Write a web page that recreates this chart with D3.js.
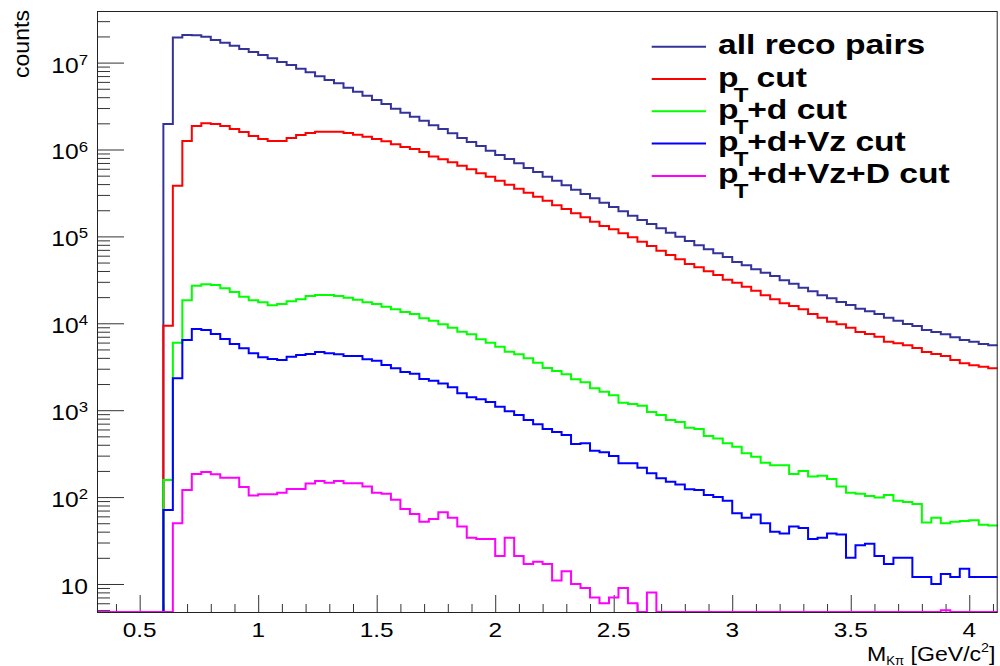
<!DOCTYPE html>
<html>
<head>
<meta charset="utf-8">
<script src="https://cdn.jsdelivr.net/npm/d3@7"></script>
<style>
  html, body { margin: 0; padding: 0; background: #fff; }
  svg { display: block; }
</style>
</head>
<body>
<svg id="chart" width="1000" height="666"></svg>
<script>
// Histogram binning: K-pi invariant mass, 95 bins of 0.04 GeV/c^2
const massRange = [0.32, 4.12];
const nBins = 95;
const countRange = [4.76, 3.925e7];

// Bin contents, one entry per bin (bin 0 starts at 0.32)
const allRecoPairs = [
  0, 0, 0, 0, 0, 0, 0, 1.97e6, 1.95e7, 2.08e7,
  2.06e7, 1.99e7, 1.82e7, 1.69e7, 1.565e7, 1.434e7, 1.324e7, 1.223e7, 1.121e7, 1.016e7,
  9.38e6, 8.51e6, 7.73e6, 6.96e6, 6.31e6, 5.78e6, 5.14e6, 4.62e6, 4.16e6, 3.71e6,
  3.34e6, 2.95e6, 2.65e6, 2.385e6, 2.145e6, 1.90e6, 1.72e6, 1.536e6, 1.357e6, 1.22e6,
  1.097e6, 9.69e5, 8.64e5, 7.78e5, 6.94e5, 6.13e5, 5.51e5, 4.86e5, 4.375e5, 3.87e5,
  3.45e5, 3.075e5, 2.745e5, 2.44e5, 2.18e5, 1.945e5, 1.731e5, 1.544e5, 1.389e5, 1.239e5,
  1.103e5, 9.92e4, 8.85e4, 7.9e4, 7.1e4, 6.39e4, 5.79e4, 5.08e4, 4.65e4, 4.18e4,
  3.82e4, 3.50e4, 3.125e4, 2.856e4, 2.57e4, 2.335e4, 2.10e4, 1.94e4, 1.759e4, 1.624e4,
  1.472e4, 1.375e4, 1.279e4, 1.16e4, 1.071e4, 9.81e3, 9.31e3, 8.37e3, 7.94e3, 7.47e3,
  6.90e3, 6.42e3, 6.14e3, 5.78e3, 5.58e3
];

const ptCut = [
  0, 0, 0, 0, 0, 0, 0, 9.39e3, 3.83e5, 1.253e6,
  1.864e6, 2.00e6, 1.965e6, 1.864e6, 1.72e6, 1.59e6, 1.43e6, 1.321e6, 1.253e6, 1.253e6,
  1.357e6, 1.469e6, 1.549e6, 1.602e6, 1.602e6, 1.602e6, 1.549e6, 1.481e6, 1.404e6, 1.321e6,
  1.243e6, 1.148e6, 1.069e6, 1.013e6, 9.36e5, 8.31e5, 7.72e5, 7.12e5, 6.51e5, 5.92e5,
  5.32e5, 4.86e5, 4.375e5, 3.935e5, 3.54e5, 3.185e5, 2.863e5, 2.575e5, 2.28e5, 2.067e5,
  1.844e5, 1.659e5, 1.476e5, 1.317e5, 1.207e5, 1.086e5, 9.76e4, 8.69e4, 7.75e4, 6.85e4,
  6.11e4, 5.45e4, 4.81e4, 4.41e4, 3.97e4, 3.60e4, 3.175e4, 2.933e4, 2.638e4, 2.372e4,
  2.10e4, 1.889e4, 1.699e4, 1.582e4, 1.449e4, 1.279e4, 1.16e4, 1.043e4, 9.74e3, 8.90e3,
  7.94e3, 7.53e3, 7.01e3, 6.14e3, 5.89e3, 5.58e3, 5.20e3, 4.67e3, 4.43e3, 4.21e3,
  3.78e3, 3.465e3, 3.285e3, 3.167e3, 3.035e3
];

const ptDCut = [
  0, 0, 0, 0, 0, 0, 0, 157, 5.98e3, 1.84e4,
  2.708e4, 2.81e4, 2.76e4, 2.53e4, 2.292e4, 2.024e4, 1.84e4, 1.745e4, 1.611e4, 1.668e4,
  1.792e4, 1.889e4, 2.062e4, 2.117e4, 2.117e4, 2.062e4, 1.97e4, 1.869e4, 1.745e4, 1.668e4,
  1.552e4, 1.449e4, 1.349e4, 1.279e4, 1.141e4, 1.069e4, 9.74e3, 8.90e3, 8.01e3, 7.47e3,
  6.54e3, 5.98e3, 5.38e3, 4.71e3, 4.40e3, 3.955e3, 3.52e3, 3.06e3, 2.826e3, 2.589e3,
  2.268e3, 2.095e3, 1.786e3, 1.633e3, 1.484e3, 1.22e3, 1.178e3, 1.127e3, 953, 881,
  771, 731, 629, 608, 505, 472, 416, 380, 319, 292,
  249, 232, 232, 184, 200, 172, 176, 162, 132, 112,
  109, 103, 99, 106, 91, 88, 83, 51, 58, 50,
  52, 53, 54, 48, 47
];

const ptDVzCut = [
  0, 0, 0, 0, 0, 0, 0, 71, 2.33e3, 6.42e3,
  8.60e3, 8.37e3, 7.53e3, 6.60e3, 5.78e3, 5.16e3, 4.52e3, 4.06e3, 3.88e3, 3.78e3,
  4.13e3, 4.32e3, 4.43e3, 4.67e3, 4.52e3, 4.40e3, 4.21e3, 4.21e3, 3.85e3, 3.71e3,
  3.31e3, 3.035e3, 2.75e3, 2.63e3, 2.286e3, 2.18e3, 2.024e3, 1.834e3, 1.565e3, 1.408e3,
  1.335e3, 1.243e3, 1.097e3, 971, 881, 771, 688, 608, 561, 518,
  408, 416, 342, 328, 297, 245, 245, 218, 188, 165,
  150, 140, 123, 121, 106, 100, 91, 65, 58, 63,
  50, 40, 38, 46, 44, 33, 34, 38, 37, 20,
  28, 29, 21, 17, 20, 20, 12, 12, 10, 13,
  12, 15, 12, 12, 12
];

const ptDVzDCut = [
  0, 0, 0, 0, 0, 0, 0, 0, 50, 121,
  184, 194, 183, 167, 167, 131, 104, 108, 108, 112,
  124, 124, 143, 153, 146, 153, 144, 144, 132, 112,
  109, 93, 73, 64, 52, 56, 67, 58, 46, 34,
  33, 33, 21, 34, 21, 17, 18, 17, 11, 14,
  10, 9, 7, 6, 7, 9, 6, 0, 8, 0,
  0, 0, 0, 0, 0, 0, 0, 0, 0, 0,
  0, 0, 0, 0, 0, 0, 0, 0, 0, 0,
  0, 0, 0, 0, 0, 0, 0, 0, 0, 5,
  0, 0, 0, 0, 0
];

const seriesValues = [allRecoPairs, ptCut, ptDCut, ptDVzCut, ptDVzDCut];
// Legend labels: [main text, subscript, trailing text]
const seriesLabels = [
  ["all reco pairs", "", ""],
  ["p", "T", " cut"],
  ["p", "T", "+d cut"],
  ["p", "T", "+d+Vz cut"],
  ["p", "T", "+d+Vz+D cut"]
];
const seriesColors = ["#33339a", "#ff0000", "#00ff00", "#0000ff", "#ff00ff"];

const xMajorTicks = [0.5, 1, 1.5, 2, 2.5, 3, 3.5, 4];
const xTickLabels = ["0.5", "1", "1.5", "2", "2.5", "3", "3.5", "4"];
const yMajorTicks = [10, 1e2, 1e3, 1e4, 1e5, 1e6, 1e7];
const yTickExponents = ["", "2", "3", "4", "5", "6", "7"];

// ---- layout ----
const frame = { left: 97, top: 11, right: 997.7, bottom: 612 };
const fontFamily = "'Liberation Sans', Arial, Helvetica, sans-serif";

const svg = d3.select("#chart");

const x = d3.scaleLinear().domain(massRange).range([frame.left, frame.right]);
const y = d3.scaleLog().domain(countRange).range([frame.bottom, frame.top]);

const binWidth = (massRange[1] - massRange[0]) / nBins;
const binEdges = d3.range(nBins + 1).map(i => massRange[0] + i * binWidth);

svg.append("defs").append("clipPath").attr("id", "frameClip")
  .append("rect")
  .attr("x", frame.left).attr("y", frame.top - 1)
  .attr("width", frame.right - frame.left)
  .attr("height", frame.bottom - frame.top + 2);

// ---- axes ticks (drawn inward like the ROOT frame) ----
const xMinorTicks = d3.range(4, 42).map(k => k / 10)
  .filter(v => v >= massRange[0] && v <= massRange[1] && !xMajorTicks.some(m => Math.abs(m - v) < 1e-9));

const tickColor = "#333";

function styleAxis(g) {
  g.select(".domain").remove();
  g.selectAll(".tick line").attr("stroke", tickColor).attr("stroke-width", 1);
  g.selectAll(".tick text").remove();
}

svg.append("g")
  .attr("transform", `translate(0,${frame.bottom})`)
  .call(d3.axisBottom(x).tickValues(xMinorTicks).tickSizeInner(-8).tickSizeOuter(0).tickFormat(""))
  .call(styleAxis);
svg.append("g")
  .attr("transform", `translate(0,${frame.bottom})`)
  .call(d3.axisBottom(x).tickValues(xMajorTicks).tickSizeInner(-17).tickSizeOuter(0).tickFormat(""))
  .call(styleAxis);

const yMinorTicks = [];
for (let e = 0; e <= 7; e++) {
  for (let k = 2; k <= 9; k++) {
    const v = k * Math.pow(10, e);
    if (v >= countRange[0] && v <= countRange[1]) yMinorTicks.push(v);
  }
}
svg.append("g")
  .attr("transform", `translate(${frame.left},0)`)
  .call(d3.axisLeft(y).tickValues(yMinorTicks).tickSizeInner(-13).tickSizeOuter(0).tickFormat(""))
  .call(styleAxis);
svg.append("g")
  .attr("transform", `translate(${frame.left},0)`)
  .call(d3.axisLeft(y).tickValues(yMajorTicks).tickSizeInner(-27).tickSizeOuter(0).tickFormat(""))
  .call(styleAxis);

// ---- histograms ----
const floorY = y(countRange[0]);
const stepLine = d3.line()
  .x(d => x(d[0]))
  .y(d => (d[1] > 0 ? Math.min(y(d[1]), floorY) : floorY))
  .curve(d3.curveStepAfter);

const histLayer = svg.append("g").attr("clip-path", "url(#frameClip)");
seriesValues.forEach((vals, s) => {
  const pts = vals.map((v, i) => [binEdges[i], v]);
  pts.push([binEdges[nBins], vals[nBins - 1]]);
  histLayer.append("path")
    .attr("d", stepLine(pts))
    .attr("fill", "none")
    .attr("stroke", seriesColors[s])
    .attr("stroke-width", 2)
    .attr("stroke-linejoin", "miter");
});

// ---- frame ----
svg.append("rect")
  .attr("x", frame.left + 0.5).attr("y", frame.top + 0.5)
  .attr("width", frame.right - frame.left - 1)
  .attr("height", frame.bottom - frame.top)
  .attr("fill", "none").attr("stroke", "#222").attr("stroke-width", 1);

// ---- text helper: horizontally stretched text with optional sub/superscripts ----
function label(px, py, anchor, size, weight, parts, stretch, rotate) {
  const g = svg.append("g")
    .attr("transform", `translate(${px},${py})` + (rotate ? ` rotate(${rotate})` : "") + ` scale(${stretch},1)`);
  const t = g.append("text")
    .attr("text-anchor", anchor)
    .attr("font-family", fontFamily)
    .attr("font-size", size)
    .attr("font-weight", weight)
    .attr("fill", "#000");
  parts.forEach(p => {
    const ts = t.append("tspan").text(p.text);
    if (p.size) ts.attr("font-size", p.size);
    if (p.dy) ts.attr("dy", p.dy);
    if (p.dx) ts.attr("dx", p.dx);
  });
  return g;
}

// x tick labels
xMajorTicks.forEach((v, i) => {
  label(x(v), 637, "middle", 21, "normal", [{ text: xTickLabels[i] }], 1.16);
});

// y tick labels
yMajorTicks.forEach((v, i) => {
  const parts = [{ text: "10" }];
  if (yTickExponents[i]) parts.push({ text: yTickExponents[i], size: 15, dy: -8 });
  label(88, y(v) + 10, "end", 22, "normal", parts, 1.12);
});

// axis titles
label(995.5, 661, "end", 21, "normal", [
  { text: "M" },
  { text: "Kπ", size: 12, dy: 3.5 },
  { text: " [GeV/c", dy: -3.5 },
  { text: "2", size: 13, dy: -9 },
  { text: "]", dy: 9 }
], 1.1);
label(28.5, 10, "end", 22, "normal", [{ text: "counts" }], 1.05, -90);

// ---- legend ----
const legendTop = 46.7, legendStep = 32.3;
seriesLabels.forEach((lab, s) => {
  const ly = legendTop + s * legendStep;
  svg.append("line")
    .attr("x1", 651.7).attr("x2", 706)
    .attr("y1", ly).attr("y2", ly)
    .attr("stroke", seriesColors[s]).attr("stroke-width", 2);
  const parts = [{ text: lab[0] }];
  if (lab[1]) {
    parts.push({ text: lab[1], size: 20, dy: 15, dx: -4 });
    parts.push({ text: lab[2], dy: -15, dx: -1 });
  }
  label(718, ly + 7.5, "start", 28, "bold", parts, 1.2);
});
</script>
</body>
</html>
